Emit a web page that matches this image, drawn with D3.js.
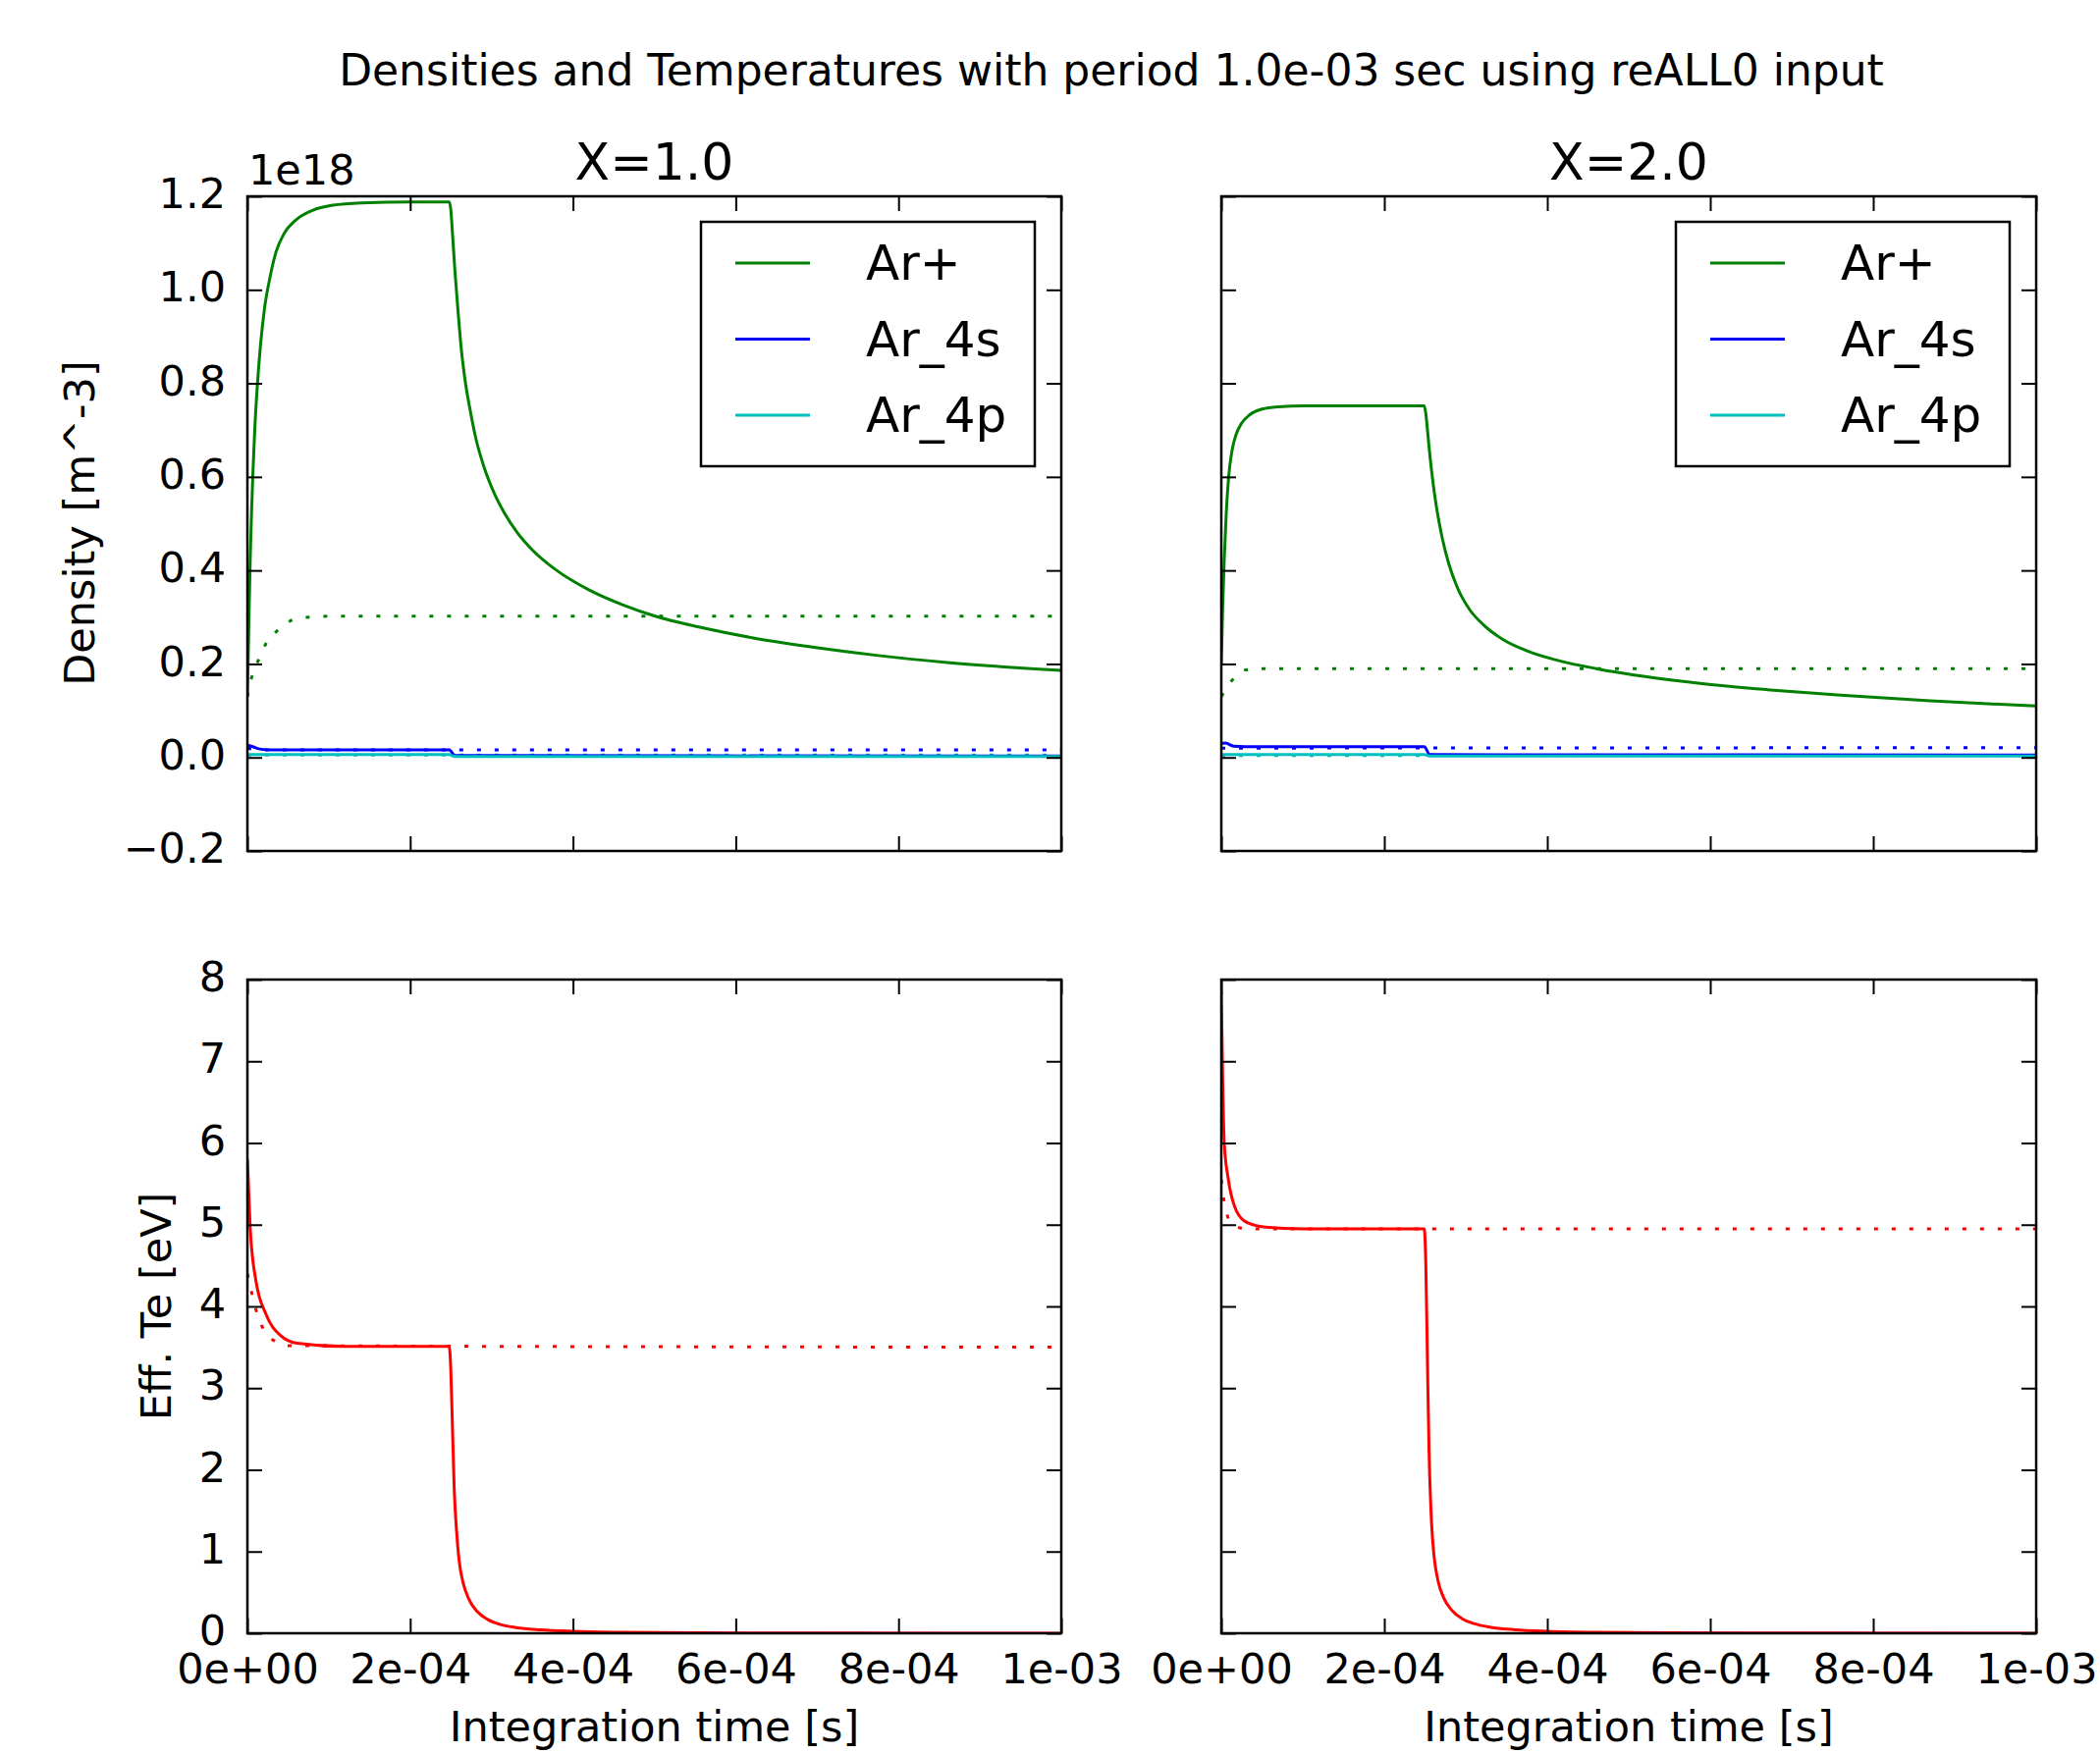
<!DOCTYPE html>
<html>
<head>
<meta charset="utf-8">
<script src="https://cdn.jsdelivr.net/npm/d3@7"></script>
<style>
  body { margin: 0; background: #fff; }
  svg { display: block; }
  text { font-family: "DejaVu Sans", sans-serif; fill: #000; }
</style>
</head>
<body>
<div id="chart"></div>
<script>
// values: time in s, densities in 1e18 m^-3, Te in eV
const columnTitles = ["X=1.0", "X=2.0"];
const speciesNames = ["Ar+", "Ar_4s", "Ar_4p"];
const speciesColors = ["#008000", "#0000ff", "#00bfbf"];
const teColor = "#ff0000";

const xTicks = [0, 2e-4, 4e-4, 6e-4, 8e-4, 1e-3];
const xTickLabels = ["0e+00", "2e-04", "4e-04", "6e-04", "8e-04", "1e-03"];
const densTicks = [-0.2, 0, 0.2, 0.4, 0.6, 0.8, 1.0, 1.2];
const densTickLabels = ["\u22120.2", "0.0", "0.2", "0.4", "0.6", "0.8", "1.0", "1.2"];
const teTicks = [0, 1, 2, 3, 4, 5, 6, 7, 8];
const teTickLabels = ["0", "1", "2", "3", "4", "5", "6", "7", "8"];

// X=1.0
const arPlus1 = [[0, 0.13], [1.5e-6, 0.26], [3.4e-6, 0.42], [5e-6, 0.52], [6.8e-6, 0.61], [9e-6, 0.70],
  [1.2e-5, 0.79], [1.6e-5, 0.88], [2.1e-5, 0.96], [2.7e-5, 1.02], [3.5e-5, 1.08], [4.5e-5, 1.12],
  [6e-5, 1.15], [8e-5, 1.17], [1.05e-4, 1.181], [1.4e-4, 1.186], [2e-4, 1.188], [2.48e-4, 1.188],
  [2.5e-4, 1.17], [2.52e-4, 1.12], [2.55e-4, 1.04], [2.59e-4, 0.95], [2.63e-4, 0.87], [2.68e-4, 0.80],
  [2.74e-4, 0.74], [2.81e-4, 0.68], [2.9e-4, 0.625], [3.02e-4, 0.57], [3.16e-4, 0.522],
  [3.32e-4, 0.48], [3.5e-4, 0.444], [3.8e-4, 0.40], [4.2e-4, 0.358], [4.6e-4, 0.327],
  [5.03e-4, 0.301], [5.6e-4, 0.277], [6.2e-4, 0.256], [6.9e-4, 0.237], [7.7e-4, 0.219],
  [8.6e-4, 0.203], [1e-3, 0.186]];
const arPlus1Ref = [[0, 0.13], [5e-6, 0.17], [1.4e-5, 0.21], [2.5e-5, 0.25], [3.6e-5, 0.27],
  [6.1e-5, 0.297], [1e-4, 0.302], [1e-3, 0.302]];
const ar4s1 = [[0, 0.026], [5e-6, 0.024], [1.5e-5, 0.018], [3e-5, 0.016], [2.48e-4, 0.016],
  [2.55e-4, 0.004], [1e-3, 0.003]];
const ar4s1Ref = [[0, 0.02], [1.5e-5, 0.016], [1e-3, 0.016]];
const ar4p1 = [[0, 0.006], [2.48e-4, 0.006], [2.55e-4, 0.002], [1e-3, 0.002]];
const ar4p1Ref = [[0, 0.005], [1e-3, 0.005]];
const te1 = [[0, 5.8], [3.4e-6, 4.97], [1e-5, 4.34], [2.3e-5, 3.9], [4e-5, 3.65], [6.1e-5, 3.55],
  [1.2e-4, 3.51], [2.48e-4, 3.51], [2.5e-4, 3.2], [2.52e-4, 2.5], [2.54e-4, 1.8], [2.57e-4, 1.25],
  [2.6e-4, 0.9], [2.65e-4, 0.62], [2.72e-4, 0.42], [2.82e-4, 0.27], [2.95e-4, 0.17], [3.1e-4, 0.11],
  [3.3e-4, 0.07], [3.6e-4, 0.042], [4e-4, 0.024], [4.6e-4, 0.012], [5.5e-4, 0.005], [7e-4, 0.002],
  [1e-3, 0.0]];
const te1Ref = [[0, 4.4], [1.4e-5, 3.85], [3e-5, 3.6], [5e-5, 3.52], [1e-3, 3.5]];

// X=2.0
const arPlus2 = [[0, 0.20], [1.5e-6, 0.31], [3.5e-6, 0.42], [6e-6, 0.52], [9e-6, 0.60], [1.3e-5, 0.655],
  [1.8e-5, 0.69], [2.5e-5, 0.715], [3.5e-5, 0.733], [5e-5, 0.745], [7e-5, 0.75], [1e-4, 0.752],
  [2.49e-4, 0.752], [2.51e-4, 0.735], [2.53e-4, 0.70], [2.56e-4, 0.645], [2.6e-4, 0.585],
  [2.65e-4, 0.525], [2.71e-4, 0.47], [2.79e-4, 0.415], [2.9e-4, 0.362], [3.04e-4, 0.318],
  [3.22e-4, 0.283], [3.45e-4, 0.253], [3.75e-4, 0.228], [4.12e-4, 0.208], [4.6e-4, 0.19],
  [5.2e-4, 0.173], [5.9e-4, 0.158], [6.7e-4, 0.145], [7.6e-4, 0.133], [8.7e-4, 0.121], [1e-3, 0.11]];
const arPlus2Ref = [[0, 0.13], [1.1e-5, 0.16], [2.9e-5, 0.187], [5e-5, 0.19], [1e-3, 0.19]];
const ar4s2 = [[0, 0.03], [5e-6, 0.031], [1.5e-5, 0.024], [3e-5, 0.023], [2.49e-4, 0.023],
  [2.56e-4, 0.006], [1e-3, 0.005]];
const ar4s2Ref = [[0, 0.02], [1e-3, 0.021]];
const ar4p2 = [[0, 0.006], [2.49e-4, 0.006], [2.56e-4, 0.003], [1e-3, 0.003]];
const ar4p2Ref = [[0, 0.004], [1e-3, 0.004]];
const te2 = [[0, 7.85], [3.6e-6, 6.0], [8.7e-6, 5.55], [1.6e-5, 5.23], [2.9e-5, 5.04], [5.4e-5, 4.97],
  [1e-4, 4.95], [2.49e-4, 4.95], [2.51e-4, 4.5], [2.53e-4, 3.3], [2.55e-4, 2.2], [2.58e-4, 1.35],
  [2.61e-4, 0.95], [2.66e-4, 0.64], [2.73e-4, 0.43], [2.83e-4, 0.28], [2.96e-4, 0.175],
  [3.11e-4, 0.115], [3.31e-4, 0.072], [3.61e-4, 0.043], [4.01e-4, 0.025], [4.6e-4, 0.012],
  [5.5e-4, 0.005], [7e-4, 0.002], [1e-3, 0]];
const te2Ref = [[0, 5.55], [5e-6, 5.2], [1.4e-5, 5.0], [3e-5, 4.95], [1e-3, 4.95]];

const densSeries = [
  [[arPlus1, arPlus1Ref], [ar4s1, ar4s1Ref], [ar4p1, ar4p1Ref]],
  [[arPlus2, arPlus2Ref], [ar4s2, ar4s2Ref], [ar4p2, ar4p2Ref]]
];
const teSeries = [[te1, te1Ref], [te2, te2Ref]];

const width = 2139, height = 1786;
const cols = [[252, 1081], [1244, 2074]];
const rows = [[200, 867], [998, 1664]];
const tickFont = 43;

const svg = d3.select("#chart").append("svg")
  .attr("width", width).attr("height", height);

svg.append("text")
  .attr("x", 1132).attr("y", 87)
  .attr("text-anchor", "middle")
  .style("font-size", "44px")
  .text("Densities and Temperatures with period 1.0e-03 sec using reALL0 input");

function drawPanel(ci, ri, yDomain, yTicks, yLabels, series) {
  const [x0, x1] = cols[ci];
  const [y0, y1] = rows[ri];
  const x = d3.scaleLinear().domain([0, 1e-3]).range([x0, x1]);
  const y = d3.scaleLinear().domain(yDomain).range([y1, y0]);
  const g = svg.append("g");
  const clipId = "clip" + ci + ri;
  g.append("clipPath").attr("id", clipId)
    .append("rect").attr("x", x0).attr("y", y0).attr("width", x1 - x0).attr("height", y1 - y0);

  const line = d3.line().x(d => x(d[0])).y(d => y(d[1])).curve(d3.curveMonotoneX);
  const plot = g.append("g").attr("clip-path", `url(#${clipId})`);
  // dotted reference curves first, solid on top
  series.forEach(s => {
    plot.append("path").datum(s.ref).attr("d", line)
      .attr("fill", "none").attr("stroke", s.color).attr("stroke-width", 3)
      .attr("stroke-dasharray", "4 14");
  });
  series.forEach(s => {
    plot.append("path").datum(s.main).attr("d", line)
      .attr("fill", "none").attr("stroke", s.color).attr("stroke-width", 3);
  });

  const tickLen = 15;
  const ax = [
    g.append("g").attr("transform", `translate(0,${y1})`)
      .call(d3.axisBottom(x).tickValues(xTicks).tickSizeInner(-tickLen).tickSizeOuter(0).tickPadding(20)
        .tickFormat((d, i) => ri === 1 ? xTickLabels[i] : "")),
    g.append("g").attr("transform", `translate(0,${y0})`)
      .call(d3.axisTop(x).tickValues(xTicks).tickSizeInner(-tickLen).tickSizeOuter(0).tickFormat("")),
    g.append("g").attr("transform", `translate(${x0},0)`)
      .call(d3.axisLeft(y).tickValues(yTicks).tickSizeInner(-tickLen).tickSizeOuter(0).tickPadding(22)
        .tickFormat((d, i) => ci === 0 ? yLabels[i] : "")),
    g.append("g").attr("transform", `translate(${x1},0)`)
      .call(d3.axisRight(y).tickValues(yTicks).tickSizeInner(-tickLen).tickSizeOuter(0).tickFormat(""))
  ];
  ax.forEach(a => {
    a.attr("font-family", null).attr("font-size", null);
    a.select(".domain").remove();
    a.selectAll(".tick line").attr("stroke", "#000").attr("stroke-width", 2);
    a.selectAll(".tick text").attr("fill", "#000").style("font-size", tickFont + "px");
  });
  // y labels sit a bit higher than d3's default 0.32em
  ax[2].selectAll(".tick text").attr("dy", "0.27em");

  g.append("rect").attr("x", x0).attr("y", y0).attr("width", x1 - x0).attr("height", y1 - y0)
    .attr("fill", "none").attr("stroke", "#000").attr("stroke-width", 2.5);
  return { g, x, y };
}

// density row
densSeries.forEach((panel, ci) => {
  const series = panel.map((p, k) => ({ main: p[0], ref: p[1], color: speciesColors[k] }));
  const { g } = drawPanel(ci, 0, [-0.2, 1.2], densTicks, densTickLabels, series);
  const [x0, x1] = cols[ci];

  g.append("text").attr("x", (x0 + x1) / 2).attr("y", 183)
    .attr("text-anchor", "middle").style("font-size", "52px").text(columnTitles[ci]);

  // legend
  const lx = x1 - 367, ly = 226, lw = 340, lh = 249;
  const leg = g.append("g");
  leg.append("rect").attr("x", lx).attr("y", ly).attr("width", lw).attr("height", lh)
    .attr("fill", "#fff").attr("stroke", "#000").attr("stroke-width", 2.5);
  speciesNames.forEach((name, k) => {
    const cy = ly + 42 + k * 77.5;
    leg.append("line").attr("x1", lx + 35).attr("x2", lx + 111).attr("y1", cy).attr("y2", cy)
      .attr("stroke", speciesColors[k]).attr("stroke-width", 3);
    leg.append("text").attr("x", lx + 168).attr("y", cy + 17)
      .style("font-size", "50px").text(name);
  });
});

// temperature row
teSeries.forEach((p, ci) => {
  drawPanel(ci, 1, [0, 8], teTicks, teTickLabels, [{ main: p[0], ref: p[1], color: teColor }]);
  const [x0, x1] = cols[ci];
  svg.append("text").attr("x", (x0 + x1) / 2).attr("y", 1774)
    .attr("text-anchor", "middle").style("font-size", "43px").text("Integration time [s]");
});

svg.append("text").attr("x", 253).attr("y", 188).style("font-size", "43px").text("1e18");

svg.append("text").attr("transform", "translate(96,533) rotate(-90)")
  .attr("text-anchor", "middle").style("font-size", "43px").text("Density [m^-3]");
svg.append("text").attr("transform", "translate(174,1331) rotate(-90)")
  .attr("text-anchor", "middle").style("font-size", "43px").text("Eff. Te [eV]");
</script>
</body>
</html>
